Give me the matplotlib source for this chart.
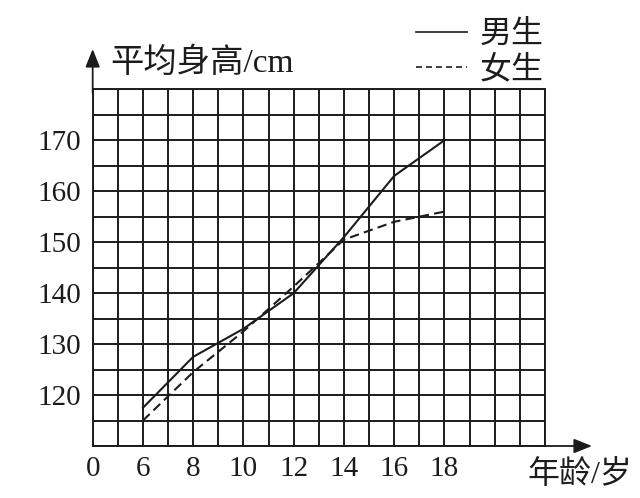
import numpy as np
import matplotlib
matplotlib.use('Agg')
import matplotlib.pyplot as plt
from matplotlib.lines import Line2D

# --- dados ---
ages = [6, 8, 10, 12, 14, 16, 18]
boys_height = [117.5, 127.5, 133, 140, 151, 163, 170]
girls_height = [115, 124.5, 132.5, 141.3, 150.5, 154, 156]

x_ticks = [4, 6, 8, 10, 12, 14, 16, 18]
x_tick_labels = ['0', '6', '8', '10', '12', '14', '16', '18']
y_ticks = [120, 130, 140, 150, 160, 170]
y_tick_labels = ['120', '130', '140', '150', '160', '170']

y_label = '平均身高/cm'
x_label = '年龄/岁'
legend_labels = ['男生', '女生']

MIXED = ['Liberation Serif', 'Noto Sans CJK SC']
INK = '#1c1c1c'

fig = plt.figure(figsize=(6.4, 4.98), dpi=100)
ax = fig.add_axes([0.1448, 0.1044, 0.7067, 0.7163])

ax.set_xlim(4, 22)
ax.set_ylim(110, 180)

# grade quadriculada (major + minor para cobrir todas as linhas)
ax.set_xticks(np.arange(4, 23, 1), minor=True)
ax.set_yticks(np.arange(110, 181, 5), minor=True)
ax.set_xticks(x_ticks)
ax.set_xticklabels(x_tick_labels, family=['Liberation Serif'], fontsize=21)
ax.set_yticks(y_ticks)
ax.set_yticklabels(y_tick_labels, family=['Liberation Serif'], fontsize=21)
ax.grid(which='both', color=INK, lw=1.4)
ax.set_axisbelow(True)
ax.tick_params(which='both', length=0, colors=INK)
ax.tick_params(axis='x', pad=7)
ax.tick_params(axis='y', pad=8)

for s in ax.spines.values():
    s.set_color(INK)
    s.set_linewidth(1.4)

# curvas
ax.plot(ages, boys_height, color=INK, lw=1.5, solid_joinstyle='round')
ax.plot(ages, girls_height, color=INK, lw=1.5, dashes=[4.5, 2.5])

# setas dos eixos
arrow = dict(arrowstyle='-|>,head_length=0.55,head_width=0.22', mutation_scale=20,
             lw=1.3, color=INK, shrinkA=0, shrinkB=0)
ax.annotate('', xy=(0, 1.113), xytext=(0, 0.99), xycoords='axes fraction', arrowprops=arrow)
ax.annotate('', xy=(1.104, 0), xytext=(0.99, 0), xycoords='axes fraction', arrowprops=arrow)

# rótulos dos eixos
fig.text(110 / 640, 1 - 63 / 498, y_label, family=MIXED, fontsize=24, va='center', ha='left', color=INK)
fig.text(527 / 640, 1 - 475 / 498, x_label, family=MIXED, fontsize=23, va='center', ha='left', color=INK)

# legenda manual
fig.add_artist(Line2D([416 / 640, 467 / 640], [1 - 32 / 498, 1 - 32 / 498], color=INK, lw=1.2))
fig.add_artist(Line2D([416 / 640, 467 / 640], [1 - 67 / 498, 1 - 67 / 498], color=INK, lw=1.2,
                      dashes=[3.6, 2.4]))
fig.text(480 / 640, 1 - 35 / 498, legend_labels[0], family=MIXED, fontsize=23, va='center', ha='left', color=INK)
fig.text(480 / 640, 1 - 70 / 498, legend_labels[1], family=MIXED, fontsize=23, va='center', ha='left', color=INK)

fig.savefig('out.png', dpi=100, facecolor='white')
